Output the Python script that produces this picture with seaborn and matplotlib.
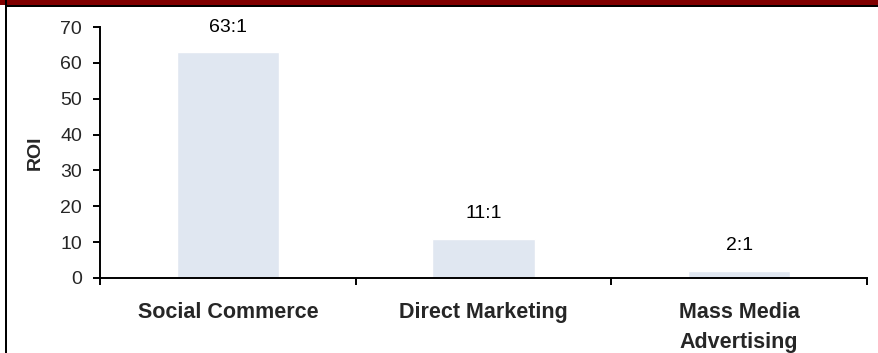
import matplotlib
matplotlib.use("Agg")
import matplotlib.pyplot as plt
from matplotlib.patches import Rectangle
import seaborn as sns
import pandas as pd

channels = ["Social Commerce", "Direct Marketing", "Mass Media\nAdvertising"]
roi = [63, 11, 2]
roi_labels = ["63:1", "11:1", "2:1"]
yticks = [0, 10, 20, 30, 40, 50, 60, 70]

sns.set_style("white")
plt.rcParams["font.family"] = ["Liberation Sans", "DejaVu Sans"]

df = pd.DataFrame({"channel": channels, "roi": roi})

W, H = 879, 353
fig = plt.figure(figsize=(W / 100, H / 100), dpi=100)
ax = fig.add_axes([100 / W, 1 - 278 / H, 767 / W, 251 / H])

sns.barplot(data=df, x="channel", y="roi", color="#E0E7F1", width=0.4,
            saturation=1, ax=ax)

for i, (v, lab) in enumerate(zip(roi, roi_labels)):
    ax.text(i, v + 7, lab, ha="center", va="center", fontsize=14, color="black")

ax.set_xlim(-0.5, 2.5)
ax.set_ylim(0, 70)
ax.set_yticks(yticks)
ax.set_ylabel("ROI", fontsize=14, fontweight="bold", labelpad=12)
ax.set_xlabel("")

for s in ["top", "right"]:
    ax.spines[s].set_visible(False)
for s in ["left", "bottom"]:
    ax.spines[s].set_color("black")
    ax.spines[s].set_linewidth(1.4)

ax.tick_params(axis="y", direction="out", length=5, width=1.4, color="black",
               labelsize=14, pad=8, left=True)
ax.set_xticks([-0.5, 0.5, 1.5, 2.5], minor=True)
ax.tick_params(axis="x", which="minor", direction="out", length=5, width=1.4,
               color="black", bottom=True)
ax.tick_params(axis="x", which="major", length=0, pad=17, labelsize=15.5)
for t in ax.get_xticklabels():
    t.set_fontweight("bold")
    t.set_linespacing(1.6)
    t.set_verticalalignment("top")

# frame decoration: red band at top, black rule under it and on the left
fig.add_artist(Rectangle((0, 1 - 5 / H), 1, 5 / H, transform=fig.transFigure,
                         color="#800000", lw=0))
fig.add_artist(Rectangle((5 / W, 1 - 7 / H), 1, 2 / H, transform=fig.transFigure,
                         color="black", lw=0))
fig.add_artist(Rectangle((5 / W, 0), 2 / W, 1, transform=fig.transFigure,
                         color="black", lw=0))

fig.savefig("out.png", dpi=100)
